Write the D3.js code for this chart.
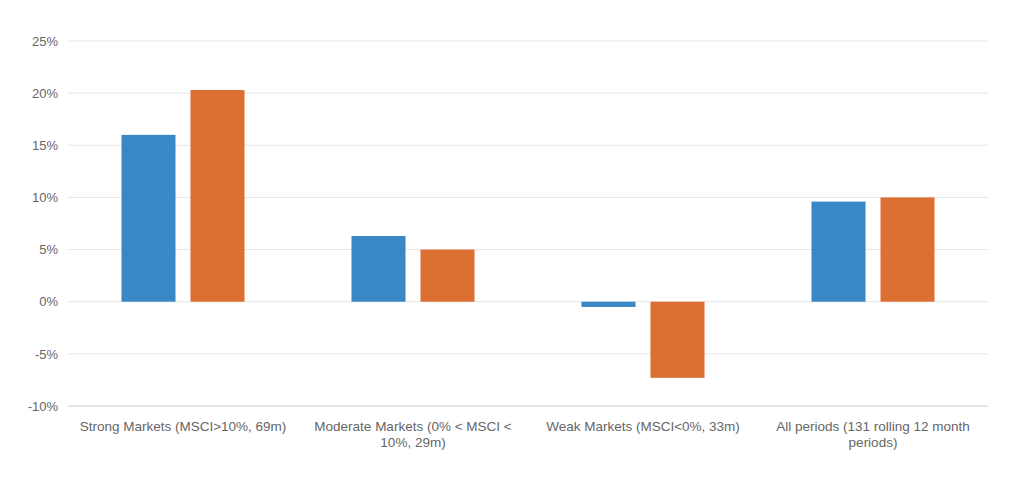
<!DOCTYPE html>
<html>
<head>
<meta charset="utf-8">
<script src="https://cdn.jsdelivr.net/npm/d3@7"></script>
<style>
  html, body { margin: 0; padding: 0; background: #fff; }
  svg { display: block; font-family: "Liberation Sans", Arial, sans-serif; }
</style>
</head>
<body>
<svg id="chart" width="1024" height="494"></svg>
<script>
const categories = [
  "Strong Markets (MSCI>10%, 69m)",
  "Moderate Markets (0% < MSCI < 10%, 29m)",
  "Weak Markets (MSCI<0%, 33m)",
  "All periods (131 rolling 12 month periods)"
];
const seriesNames = ["Series A", "Series B"];
const seriesA = [16.0, 6.3, -0.5, 9.6];
const seriesB = [20.3, 5.0, -7.3, 10.0];
const yTicks = [-10, -5, 0, 5, 10, 15, 20, 25];
const colors = ["#3a87c6", "#dc7032"];

const svg = d3.select("#chart");
const margin = { left: 68, right: 36, top: 41, bottom: 88 };
const W = 1024, H = 494;

const x = d3.scaleBand().domain(categories).range([margin.left, W - margin.right]).paddingInner(0).paddingOuter(0);
const xs = d3.scaleBand().domain(seriesNames).range([0, x.bandwidth()]).paddingInner(0.217).paddingOuter(0.775);
const y = d3.scaleLinear().domain([-10, 25]).range([H - margin.bottom, margin.top]);

// gridlines
svg.append("g").selectAll("line").data(yTicks).join("line")
  .attr("x1", margin.left).attr("x2", W - margin.right)
  .attr("y1", d => y(d)).attr("y2", d => y(d))
  .attr("stroke", d => d === -10 ? "#cfcfcf" : "#e6e6e6").attr("stroke-width", 1);

// y axis labels
const yAxis = d3.axisLeft(y).tickValues(yTicks).tickFormat(d => d + "%").tickSize(0).tickPadding(10);
const gy = svg.append("g").attr("transform", `translate(${margin.left},0)`).call(yAxis);
gy.select(".domain").remove();
gy.selectAll("text").attr("fill", "#666").style("font-size", "13px").style("font-family", "Liberation Sans, Arial, sans-serif");

// bars
const data = categories.map((c, i) => ({ c, vals: [seriesA[i], seriesB[i]] }));
const groups = svg.append("g").selectAll("g").data(data).join("g")
  .attr("transform", d => `translate(${x(d.c)},0)`);
groups.selectAll("rect").data(d => d.vals.map((v, j) => ({ v, s: seriesNames[j], j }))).join("rect")
  .attr("x", d => xs(d.s))
  .attr("width", xs.bandwidth())
  .attr("y", d => y(Math.max(0, d.v)))
  .attr("height", d => Math.abs(y(d.v) - y(0)))
  .attr("fill", d => colors[d.j]);

// x axis labels
const xAxis = d3.axisBottom(x).tickSize(0).tickPadding(15);
const gx = svg.append("g").attr("transform", `translate(0,${y(-10)})`).call(xAxis);
gx.select(".domain").remove();
gx.selectAll("text").attr("fill", "#666").style("font-size", "13.5px").style("font-family", "Liberation Sans, Arial, sans-serif")
  .call(wrap, 215);

function wrap(texts, width) {
  texts.each(function() {
    const text = d3.select(this);
    const words = text.text().split(/\s+/);
    const yv = text.attr("y");
    const dy = parseFloat(text.attr("dy")) || 0;
    text.text(null);
    let line = [];
    let lineNo = 0;
    let tspan = text.append("tspan").attr("x", 0).attr("y", yv).attr("dy", dy + "em");
    for (const w of words) {
      line.push(w);
      tspan.text(line.join(" "));
      if (tspan.node().getComputedTextLength() > width && line.length > 1) {
        line.pop();
        tspan.text(line.join(" "));
        line = [w];
        lineNo++;
        tspan = text.append("tspan").attr("x", 0).attr("y", yv).attr("dy", (lineNo * 1.25 + dy) + "em").text(w);
      }
    }
  });
}
</script>
</body>
</html>
